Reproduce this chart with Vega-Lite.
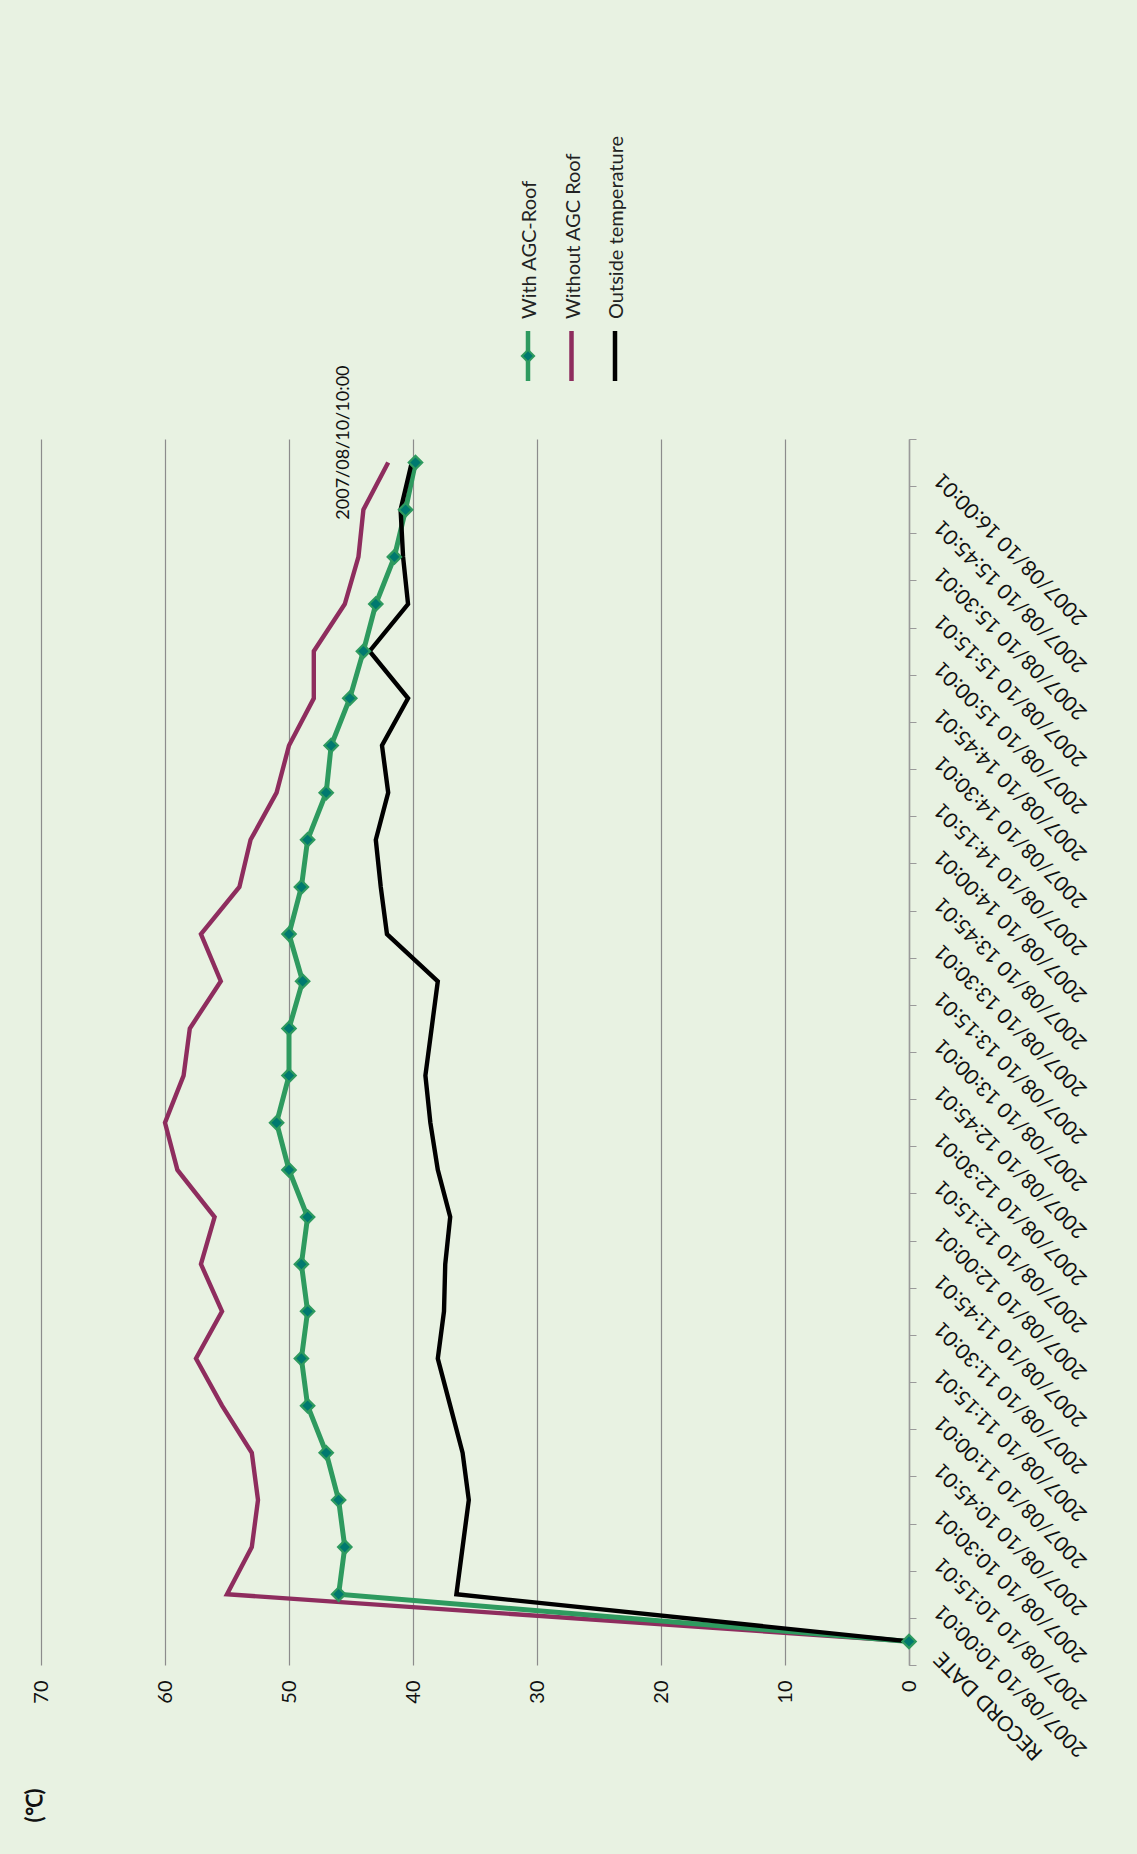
{
  "$schema": "https://vega.github.io/schema/vega-lite/v6.json",
  "autosize": {"type": "none"},
  "padding": {"left": 41, "top": 439, "right": 228, "bottom": 189},
  "width": 868,
  "height": 1226,
  "background": "#e8f2e2",
  "config": {"view": {"stroke": null}, "font": "Lato"},
  "datasets": {
    "temps": [
      {"time": "RECORD DATE", "series": "With AGC-Roof", "value": 0},
      {"time": "2007/08/10 10:00:01", "series": "With AGC-Roof", "value": 46.0},
      {"time": "2007/08/10 10:15:01", "series": "With AGC-Roof", "value": 45.5},
      {"time": "2007/08/10 10:30:01", "series": "With AGC-Roof", "value": 46.0},
      {"time": "2007/08/10 10:45:01", "series": "With AGC-Roof", "value": 47.0},
      {"time": "2007/08/10 11:00:01", "series": "With AGC-Roof", "value": 48.5},
      {"time": "2007/08/10 11:15:01", "series": "With AGC-Roof", "value": 49.0},
      {"time": "2007/08/10 11:30:01", "series": "With AGC-Roof", "value": 48.5},
      {"time": "2007/08/10 11:45:01", "series": "With AGC-Roof", "value": 49.0},
      {"time": "2007/08/10 12:00:01", "series": "With AGC-Roof", "value": 48.5},
      {"time": "2007/08/10 12:15:01", "series": "With AGC-Roof", "value": 50.0},
      {"time": "2007/08/10 12:30:01", "series": "With AGC-Roof", "value": 51.0},
      {"time": "2007/08/10 12:45:01", "series": "With AGC-Roof", "value": 50.0},
      {"time": "2007/08/10 13:00:01", "series": "With AGC-Roof", "value": 50.0},
      {"time": "2007/08/10 13:15:01", "series": "With AGC-Roof", "value": 48.9},
      {"time": "2007/08/10 13:30:01", "series": "With AGC-Roof", "value": 50.0},
      {"time": "2007/08/10 13:45:01", "series": "With AGC-Roof", "value": 49.0},
      {"time": "2007/08/10 14:00:01", "series": "With AGC-Roof", "value": 48.5},
      {"time": "2007/08/10 14:15:01", "series": "With AGC-Roof", "value": 47.0},
      {"time": "2007/08/10 14:30:01", "series": "With AGC-Roof", "value": 46.6},
      {"time": "2007/08/10 14:45:01", "series": "With AGC-Roof", "value": 45.1},
      {"time": "2007/08/10 15:00:01", "series": "With AGC-Roof", "value": 44.0},
      {"time": "2007/08/10 15:15:01", "series": "With AGC-Roof", "value": 43.0},
      {"time": "2007/08/10 15:30:01", "series": "With AGC-Roof", "value": 41.5},
      {"time": "2007/08/10 15:45:01", "series": "With AGC-Roof", "value": 40.6},
      {"time": "2007/08/10 16:00:01", "series": "With AGC-Roof", "value": 39.8},
      {"time": "RECORD DATE", "series": "Without AGC Roof", "value": 0},
      {"time": "2007/08/10 10:00:01", "series": "Without AGC Roof", "value": 55.0},
      {"time": "2007/08/10 10:15:01", "series": "Without AGC Roof", "value": 53.0},
      {"time": "2007/08/10 10:30:01", "series": "Without AGC Roof", "value": 52.5},
      {"time": "2007/08/10 10:45:01", "series": "Without AGC Roof", "value": 53.0},
      {"time": "2007/08/10 11:00:01", "series": "Without AGC Roof", "value": 55.4},
      {"time": "2007/08/10 11:15:01", "series": "Without AGC Roof", "value": 57.5},
      {"time": "2007/08/10 11:30:01", "series": "Without AGC Roof", "value": 55.4},
      {"time": "2007/08/10 11:45:01", "series": "Without AGC Roof", "value": 57.1},
      {"time": "2007/08/10 12:00:01", "series": "Without AGC Roof", "value": 56.0},
      {"time": "2007/08/10 12:15:01", "series": "Without AGC Roof", "value": 59.0},
      {"time": "2007/08/10 12:30:01", "series": "Without AGC Roof", "value": 60.0},
      {"time": "2007/08/10 12:45:01", "series": "Without AGC Roof", "value": 58.5},
      {"time": "2007/08/10 13:00:01", "series": "Without AGC Roof", "value": 58.0},
      {"time": "2007/08/10 13:15:01", "series": "Without AGC Roof", "value": 55.5},
      {"time": "2007/08/10 13:30:01", "series": "Without AGC Roof", "value": 57.1},
      {"time": "2007/08/10 13:45:01", "series": "Without AGC Roof", "value": 54.0},
      {"time": "2007/08/10 14:00:01", "series": "Without AGC Roof", "value": 53.1},
      {"time": "2007/08/10 14:15:01", "series": "Without AGC Roof", "value": 51.0},
      {"time": "2007/08/10 14:30:01", "series": "Without AGC Roof", "value": 50.0},
      {"time": "2007/08/10 14:45:01", "series": "Without AGC Roof", "value": 48.0},
      {"time": "2007/08/10 15:00:01", "series": "Without AGC Roof", "value": 48.0},
      {"time": "2007/08/10 15:15:01", "series": "Without AGC Roof", "value": 45.5},
      {"time": "2007/08/10 15:30:01", "series": "Without AGC Roof", "value": 44.4},
      {"time": "2007/08/10 15:45:01", "series": "Without AGC Roof", "value": 44.0},
      {"time": "2007/08/10 16:00:01", "series": "Without AGC Roof", "value": 42.0},
      {"time": "RECORD DATE", "series": "Outside temperature", "value": 0},
      {"time": "2007/08/10 10:00:01", "series": "Outside temperature", "value": 36.5},
      {"time": "2007/08/10 10:15:01", "series": "Outside temperature", "value": 36.0},
      {"time": "2007/08/10 10:30:01", "series": "Outside temperature", "value": 35.5},
      {"time": "2007/08/10 10:45:01", "series": "Outside temperature", "value": 36.0},
      {"time": "2007/08/10 11:00:01", "series": "Outside temperature", "value": 37.0},
      {"time": "2007/08/10 11:15:01", "series": "Outside temperature", "value": 38.0},
      {"time": "2007/08/10 11:30:01", "series": "Outside temperature", "value": 37.5},
      {"time": "2007/08/10 11:45:01", "series": "Outside temperature", "value": 37.4},
      {"time": "2007/08/10 12:00:01", "series": "Outside temperature", "value": 37.0},
      {"time": "2007/08/10 12:15:01", "series": "Outside temperature", "value": 38.0},
      {"time": "2007/08/10 12:30:01", "series": "Outside temperature", "value": 38.6},
      {"time": "2007/08/10 12:45:01", "series": "Outside temperature", "value": 39.0},
      {"time": "2007/08/10 13:00:01", "series": "Outside temperature", "value": 38.5},
      {"time": "2007/08/10 13:15:01", "series": "Outside temperature", "value": 38.0},
      {"time": "2007/08/10 13:30:01", "series": "Outside temperature", "value": 42.1},
      {"time": "2007/08/10 13:45:01", "series": "Outside temperature", "value": 42.6},
      {"time": "2007/08/10 14:00:01", "series": "Outside temperature", "value": 43.0},
      {"time": "2007/08/10 14:15:01", "series": "Outside temperature", "value": 42.0},
      {"time": "2007/08/10 14:30:01", "series": "Outside temperature", "value": 42.5},
      {"time": "2007/08/10 14:45:01", "series": "Outside temperature", "value": 40.4},
      {"time": "2007/08/10 15:00:01", "series": "Outside temperature", "value": 43.5},
      {"time": "2007/08/10 15:15:01", "series": "Outside temperature", "value": 40.4},
      {"time": "2007/08/10 15:30:01", "series": "Outside temperature", "value": 40.8},
      {"time": "2007/08/10 15:45:01", "series": "Outside temperature", "value": 41.0},
      {"time": "2007/08/10 16:00:01", "series": "Outside temperature", "value": 40.1}
    ],
    "legendItems": [
      {"series": "With AGC-Roof"},
      {"series": "Without AGC Roof"},
      {"series": "Outside temperature"}
    ]
  },
  "layer": [
    {
      "data": {"name": "temps"},
      "encoding": {
        "y": {
          "field": "time",
          "type": "nominal",
          "scale": {
            "type": "band",
            "paddingInner": 0,
            "paddingOuter": 0,
            "domain": [
              "2007/08/10 16:00:01", "2007/08/10 15:45:01", "2007/08/10 15:30:01", "2007/08/10 15:15:01",
              "2007/08/10 15:00:01", "2007/08/10 14:45:01", "2007/08/10 14:30:01", "2007/08/10 14:15:01",
              "2007/08/10 14:00:01", "2007/08/10 13:45:01", "2007/08/10 13:30:01", "2007/08/10 13:15:01",
              "2007/08/10 13:00:01", "2007/08/10 12:45:01", "2007/08/10 12:30:01", "2007/08/10 12:15:01",
              "2007/08/10 12:00:01", "2007/08/10 11:45:01", "2007/08/10 11:30:01", "2007/08/10 11:15:01",
              "2007/08/10 11:00:01", "2007/08/10 10:45:01", "2007/08/10 10:30:01", "2007/08/10 10:15:01",
              "2007/08/10 10:00:01", "RECORD DATE"
            ]
          },
          "axis": {
            "orient": "right",
            "title": null,
            "labelAngle": 225,
            "labelAlign": "right",
            "labelBaseline": "middle",
            "labelPadding": 22,
            "labelOffset": 13,
            "labelFontSize": 21,
            "labelFont": "Lato",
            "labelColor": "#111111",
            "labelLimit": 400,
            "labelOverlap": false,
            "tickBand": "extent",
            "tickSize": 7,
            "tickColor": "#9a9a9a",
            "domainColor": "#9a9a9a",
            "domainWidth": 1.5,
            "grid": false
          }
        },
        "x": {
          "field": "value",
          "type": "quantitative",
          "scale": {"domain": [0, 70], "reverse": true, "nice": false},
          "axis": {
            "orient": "bottom",
            "values": [0, 10, 20, 30, 40, 50, 60, 70],
            "title": "(℃)",
            "titleAngle": 270,
            "titleX": -7,
            "titleY": 140,
            "titleAlign": "center",
            "titleBaseline": "middle",
            "titleFontSize": 22,
            "titleFontWeight": "bold",
            "titleFont": "Lato",
            "titleColor": "#111111",
            "labelAngle": 270,
            "labelAlign": "right",
            "labelBaseline": "middle",
            "labelPadding": 15,
            "labelFontSize": 20,
            "labelFont": "Lato",
            "labelColor": "#111111",
            "labelFlush": false,
            "labelOverlap": false,
            "ticks": false,
            "domain": false,
            "grid": true,
            "gridColor": "#8c8c8c",
            "gridWidth": 1.2
          }
        }
      },
      "layer": [
        {
          "transform": [{"filter": "datum.series === 'Without AGC Roof'"}],
          "mark": {"type": "line", "color": "#8e2d5e", "strokeWidth": 4.4},
          "encoding": {"order": {"value": null}}
        },
        {
          "transform": [{"filter": "datum.series === 'With AGC-Roof'"}],
          "mark": {"type": "line", "color": "#2e9a5f", "strokeWidth": 5},
          "encoding": {"order": {"value": null}}
        },
        {
          "transform": [{"filter": "datum.series === 'Outside temperature'"}],
          "mark": {"type": "line", "color": "#000000", "strokeWidth": 4.4},
          "encoding": {"order": {"value": null}}
        },
        {
          "transform": [{"filter": "datum.series === 'With AGC-Roof'"}],
          "mark": {"type": "point", "shape": "diamond", "filled": true, "fill": "#00796f", "stroke": "#2e9a5f", "strokeWidth": 2.2, "size": 180, "opacity": 1}
        },
        {
          "transform": [{"filter": "datum.series === 'With AGC-Roof' && datum.time === '2007/08/10 16:00:01'"}],
          "mark": {"type": "text", "angle": 270, "align": "center", "baseline": "middle", "fontSize": 18, "font": "Lato", "color": "#111111", "yOffset": -20},
          "encoding": {
            "x": {"datum": 45.6, "type": "quantitative"},
            "text": {"value": "2007/08/10/10:00"}
          }
        }
      ]
    },
    {
      "data": {"name": "legendItems"},
      "encoding": {
        "x": {
          "field": "series",
          "type": "nominal",
          "scale": {"type": "point", "domain": ["With AGC-Roof", "Without AGC Roof", "Outside temperature"], "range": [487, 574], "padding": 0},
          "axis": null
        }
      },
      "layer": [
        {
          "mark": {"type": "rule", "strokeWidth": 4.5},
          "encoding": {
            "y": {"datum": 0, "type": "quantitative", "scale": {"domain": [0, 1], "range": [-108, -58]}, "axis": null},
            "y2": {"datum": 1},
            "color": {
              "field": "series",
              "type": "nominal",
              "scale": {"domain": ["With AGC-Roof", "Without AGC Roof", "Outside temperature"], "range": ["#2e9a5f", "#8e2d5e", "#000000"]},
              "legend": null
            }
          }
        },
        {
          "transform": [{"filter": "datum.series === 'With AGC-Roof'"}],
          "mark": {"type": "point", "shape": "diamond", "filled": true, "fill": "#00796f", "stroke": "#2e9a5f", "strokeWidth": 2, "size": 150, "opacity": 1},
          "encoding": {
            "y": {"datum": 0.5, "type": "quantitative"}
          }
        },
        {
          "mark": {"type": "text", "angle": 270, "align": "left", "baseline": "middle", "fontSize": 20, "font": "Lato", "color": "#222222", "yOffset": -12, "xOffset": 2},
          "encoding": {
            "y": {"datum": 0, "type": "quantitative"},
            "text": {"field": "series"}
          }
        }
      ]
    }
  ],
  "resolve": {
    "scale": {"x": "independent", "y": "independent", "color": "independent"},
    "axis": {"x": "independent", "y": "independent"}
  }
}
